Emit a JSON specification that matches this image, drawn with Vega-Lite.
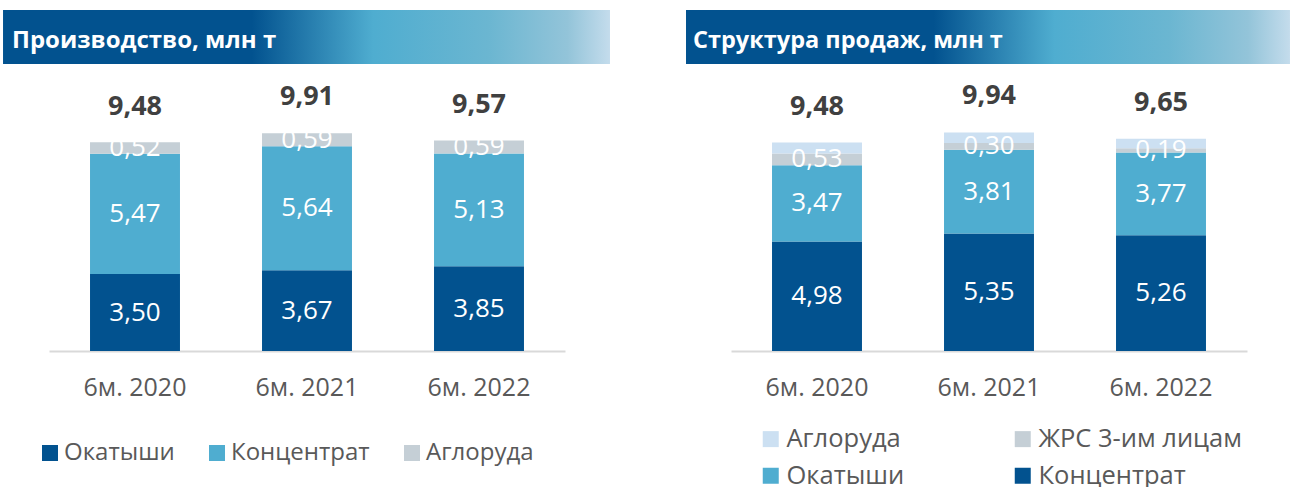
{
  "$schema": "https://vega.github.io/schema/vega-lite/v6.json",
  "padding": {"left": 3, "top": 10, "right": 0, "bottom": 0},
  "background": "white",
  "config": {
    "font": "Open Sans",
    "view": {"stroke": null},
    "locale": {"number": {"decimal": ",", "thousands": " ", "grouping": [3], "currency": ["", ""]}},
    "legend": {"padding": 0}
  },
  "spacing": 76,
  "hconcat": [
    {
      "spacing": 10,
      "vconcat": [
        {
          "width": 516,
          "height": 54,
          "data": {"values": [{"title": "Производство, млн т"}]},
          "layer": [
            {
              "mark": {"type": "rect", "color": {"gradient": "linear", "x1": 0, "x2": 1, "y1": 0, "y2": 0, "stops": [
                {"offset": 0, "color": "#02528F"},
                {"offset": 0.41, "color": "#02528F"},
                {"offset": 0.61, "color": "#4FADD0"},
                {"offset": 0.8, "color": "#6BB6D1"},
                {"offset": 0.93, "color": "#93C4D9"},
                {"offset": 1, "color": "#C4DCEC"}]}},
              "encoding": {
                "x": {"datum": -0.0891, "type": "quantitative", "scale": {"domain": [0, 1], "nice": false, "zero": false}, "axis": null},
                "x2": {"datum": 1.0872},
                "y": {"datum": 0, "type": "quantitative", "scale": {"domain": [0, 1], "nice": false}, "axis": null},
                "y2": {"datum": 1}
              }
            },
            {
              "mark": {"type": "text", "align": "left", "baseline": "middle", "color": "white", "fontWeight": "bold", "fontSize": 24, "font": "Open Sans"},
              "encoding": {
                "x": {"datum": -0.0717, "type": "quantitative"},
                "y": {"datum": 0.43, "type": "quantitative"},
                "text": {"field": "title"}
              }
            }
          ]
        },
        {
          "width": 516,
          "height": 277,
          "data": {"values": [
            {"period": "6м. 2020", "seg": "Окатыши", "val": 3.50, "ord": 1},
            {"period": "6м. 2020", "seg": "Концентрат", "val": 5.47, "ord": 2},
            {"period": "6м. 2020", "seg": "Аглоруда", "val": 0.52, "ord": 3},
            {"period": "6м. 2021", "seg": "Окатыши", "val": 3.67, "ord": 1},
            {"period": "6м. 2021", "seg": "Концентрат", "val": 5.64, "ord": 2},
            {"period": "6м. 2021", "seg": "Аглоруда", "val": 0.59, "ord": 3},
            {"period": "6м. 2022", "seg": "Окатыши", "val": 3.85, "ord": 1},
            {"period": "6м. 2022", "seg": "Концентрат", "val": 5.13, "ord": 2},
            {"period": "6м. 2022", "seg": "Аглоруда", "val": 0.59, "ord": 3}
          ]},
          "layer": [
            {
              "transform": [
                {"stack": "val", "groupby": ["period"], "sort": [{"field": "ord", "order": "ascending"}], "as": ["v0", "v1"]}
              ],
              "mark": {"type": "bar"},
              "encoding": {
                "x": {"field": "period", "type": "nominal", "sort": null, "scale": {"paddingInner": 0.477, "paddingOuter": 0.2385},
                  "axis": {"title": null, "labelAngle": 0, "ticks": false, "domainColor": "#D9D9D9", "domainWidth": 2, "labelFontSize": 25, "labelColor": "#595959", "labelPadding": 24, "labelFont": "Open Sans"}},
                "y": {"field": "v0", "type": "quantitative", "scale": {"domain": [0, 12.6], "nice": false}, "axis": null},
                "y2": {"field": "v1"},
                "color": {"field": "seg", "type": "nominal",
                  "scale": {"domain": ["Окатыши", "Концентрат", "Аглоруда"], "range": ["#02528F", "#4FADD0", "#C5CFD6"]},
                  "legend": {"orient": "none", "legendX": -11, "legendY": 431, "direction": "horizontal", "title": null,
                    "symbolType": "square", "symbolSize": 256, "symbolStrokeWidth": 0, "symbolOpacity": 1, "labelLimit": 400,
                    "labelFontSize": 24, "labelColor": "#595959", "labelFont": "Open Sans", "labelOffset": 2, "columnPadding": 30}}
              }
            },
            {
              "transform": [
                {"stack": "val", "groupby": ["period"], "sort": [{"field": "ord", "order": "ascending"}], "as": ["v0", "v1"]},
                {"calculate": "(datum.v0 + datum.v1) / 2", "as": "mid"}
              ],
              "mark": {"type": "text", "color": "white", "fontSize": 26, "baseline": "middle", "font": "Open Sans"},
              "encoding": {
                "x": {"field": "period", "type": "nominal", "sort": null},
                "y": {"field": "mid", "type": "quantitative"},
                "text": {"field": "val", "type": "quantitative", "format": ".2f"}
              }
            },
            {
              "data": {"values": [
                {"period": "6м. 2020", "total": 9.48},
                {"period": "6м. 2021", "total": 9.91},
                {"period": "6м. 2022", "total": 9.57}
              ]},
              "mark": {"type": "text", "color": "#404040", "fontSize": 27, "fontWeight": "bold", "baseline": "alphabetic", "dy": -28, "font": "Open Sans"},
              "encoding": {
                "x": {"field": "period", "type": "nominal", "sort": null},
                "y": {"field": "total", "type": "quantitative"},
                "text": {"field": "total", "type": "quantitative", "format": ".2f"}
              }
            }
          ]
        }
      ]
    },
    {
      "spacing": 10,
      "vconcat": [
        {
          "width": 516,
          "height": 54,
          "data": {"values": [{"title": "Структура продаж, млн т"}]},
          "layer": [
            {
              "mark": {"type": "rect", "color": {"gradient": "linear", "x1": 0, "x2": 1, "y1": 0, "y2": 0, "stops": [
                {"offset": 0, "color": "#02528F"},
                {"offset": 0.41, "color": "#02528F"},
                {"offset": 0.61, "color": "#4FADD0"},
                {"offset": 0.8, "color": "#6BB6D1"},
                {"offset": 0.93, "color": "#93C4D9"},
                {"offset": 1, "color": "#C4DCEC"}]}},
              "encoding": {
                "x": {"datum": -0.0872, "type": "quantitative", "scale": {"domain": [0, 1], "nice": false, "zero": false}, "axis": null},
                "x2": {"datum": 1.0833},
                "y": {"datum": 0, "type": "quantitative", "scale": {"domain": [0, 1], "nice": false}, "axis": null},
                "y2": {"datum": 1}
              }
            },
            {
              "mark": {"type": "text", "align": "left", "baseline": "middle", "color": "white", "fontWeight": "bold", "fontSize": 23.5, "font": "Open Sans"},
              "encoding": {
                "x": {"datum": -0.0736, "type": "quantitative"},
                "y": {"datum": 0.43, "type": "quantitative"},
                "text": {"field": "title"}
              }
            }
          ]
        },
        {
          "width": 516,
          "height": 277,
          "data": {"values": [
            {"period": "6м. 2020", "seg": "Концентрат", "val": 4.98, "ord": 1},
            {"period": "6м. 2020", "seg": "Окатыши", "val": 3.47, "ord": 2},
            {"period": "6м. 2020", "seg": "ЖРС 3-им лицам", "val": 0.53, "ord": 3},
            {"period": "6м. 2020", "seg": "Аглоруда", "val": 0.50, "ord": 4},
            {"period": "6м. 2021", "seg": "Концентрат", "val": 5.35, "ord": 1},
            {"period": "6м. 2021", "seg": "Окатыши", "val": 3.81, "ord": 2},
            {"period": "6м. 2021", "seg": "ЖРС 3-им лицам", "val": 0.30, "ord": 3},
            {"period": "6м. 2021", "seg": "Аглоруда", "val": 0.48, "ord": 4},
            {"period": "6м. 2022", "seg": "Концентрат", "val": 5.26, "ord": 1},
            {"period": "6м. 2022", "seg": "Окатыши", "val": 3.77, "ord": 2},
            {"period": "6м. 2022", "seg": "ЖРС 3-им лицам", "val": 0.19, "ord": 3},
            {"period": "6м. 2022", "seg": "Аглоруда", "val": 0.43, "ord": 4}
          ]},
          "layer": [
            {
              "transform": [
                {"stack": "val", "groupby": ["period"], "sort": [{"field": "ord", "order": "ascending"}], "as": ["v0", "v1"]}
              ],
              "mark": {"type": "bar"},
              "encoding": {
                "x": {"field": "period", "type": "nominal", "sort": null, "scale": {"paddingInner": 0.477, "paddingOuter": 0.2385},
                  "axis": {"title": null, "labelAngle": 0, "ticks": false, "domainColor": "#D9D9D9", "domainWidth": 2, "labelFontSize": 25, "labelColor": "#595959", "labelPadding": 24, "labelFont": "Open Sans"}},
                "y": {"field": "v0", "type": "quantitative", "scale": {"domain": [0, 12.6], "nice": false}, "axis": null},
                "y2": {"field": "v1"},
                "color": {"field": "seg", "type": "nominal",
                  "scale": {"domain": ["Аглоруда", "ЖРС 3-им лицам", "Окатыши", "Концентрат"], "range": ["#CCE0F2", "#C5CFD6", "#4FADD0", "#02528F"]},
                  "legend": {"orient": "none", "legendX": 27, "legendY": 416, "columns": 2, "direction": "horizontal", "title": null,
                    "symbolType": "square", "symbolSize": 256, "symbolStrokeWidth": 0, "symbolOpacity": 1, "labelLimit": 400,
                    "labelFontSize": 25.5, "labelColor": "#595959", "labelFont": "Open Sans", "labelOffset": 3, "columnPadding": 105, "rowPadding": 10}}
              }
            },
            {
              "transform": [
                {"filter": {"field": "seg", "oneOf": ["Концентрат", "Окатыши", "ЖРС 3-им лицам"]}},
                {"stack": "val", "groupby": ["period"], "sort": [{"field": "ord", "order": "ascending"}], "as": ["v0", "v1"]},
                {"calculate": "(datum.v0 + datum.v1) / 2", "as": "mid"}
              ],
              "mark": {"type": "text", "color": "white", "fontSize": 26, "baseline": "middle", "font": "Open Sans"},
              "encoding": {
                "x": {"field": "period", "type": "nominal", "sort": null},
                "y": {"field": "mid", "type": "quantitative"},
                "text": {"field": "val", "type": "quantitative", "format": ".2f"}
              }
            },
            {
              "data": {"values": [
                {"period": "6м. 2020", "total": 9.48},
                {"period": "6м. 2021", "total": 9.94},
                {"period": "6м. 2022", "total": 9.65}
              ]},
              "mark": {"type": "text", "color": "#404040", "fontSize": 27, "fontWeight": "bold", "baseline": "alphabetic", "dy": -28, "font": "Open Sans"},
              "encoding": {
                "x": {"field": "period", "type": "nominal", "sort": null},
                "y": {"field": "total", "type": "quantitative"},
                "text": {"field": "total", "type": "quantitative", "format": ".2f"}
              }
            }
          ]
        }
      ]
    }
  ],
  "resolve": {"scale": {"color": "independent"}, "legend": {"color": "independent"}}
}
